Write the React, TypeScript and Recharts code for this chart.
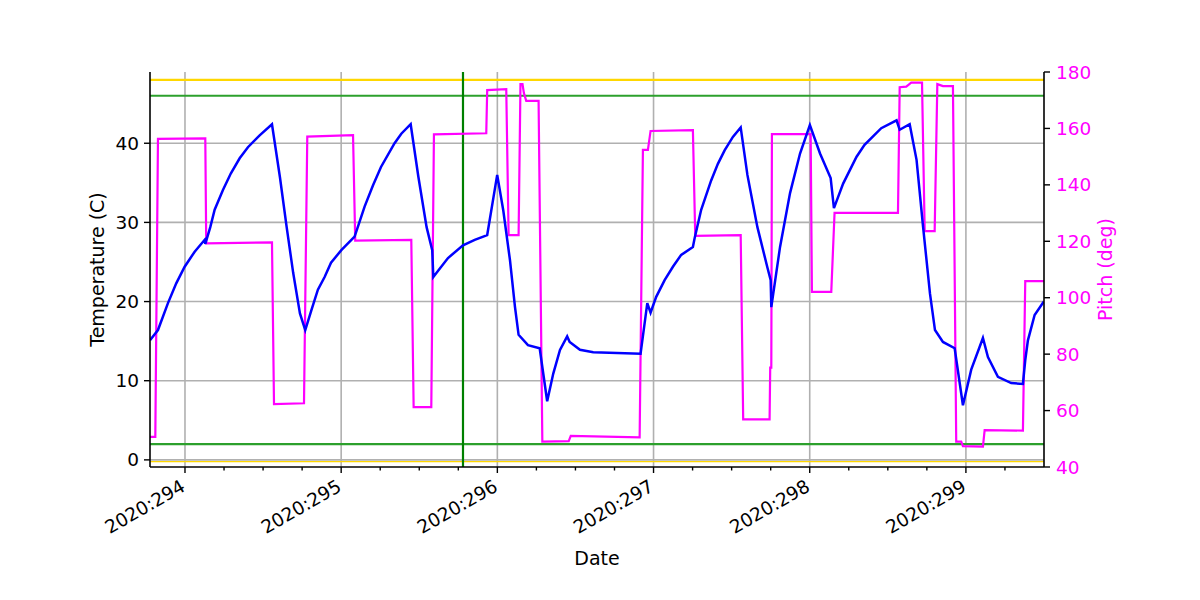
import React from 'react';
import { ComposedChart, Line, XAxis, YAxis, CartesianGrid, ReferenceLine } from 'recharts';

const FONT = '"DejaVu Sans", Verdana, sans-serif';

const chartTitle = 'TMP_FEP1_ACTEL';
const xLabel = 'Date';
const leftLabel = 'Temperature (C)';
const rightLabel = 'Pitch (deg)';
const yearPrefix = '2020:';

const xDomain: [number, number] = [293.776, 299.5];
const majorDays = [294, 295, 296, 297, 298, 299];
const minorDays = [
  294.25, 294.5, 294.75, 295.25, 295.5, 295.75, 296.25, 296.5, 296.75,
  297.25, 297.5, 297.75, 298.25, 298.5, 298.75, 299.25,
];
const leftTicks = [0, 10, 20, 30, 40];
const leftDomain: [number, number] = [-0.9, 49];
const rightTicks = [40, 60, 80, 100, 120, 140, 160, 180];
const rightDomain: [number, number] = [40, 180];

// limit lines (temperature axis)
const yellowLimits = [48, -0.22];
const greenLimits = [46, 2];
const markerDay = 295.78;

// Temperature series
const tempDays = [
  293.776, 293.827, 293.891, 293.944, 293.998, 294.062, 294.126, 294.130, 294.162, 294.190,
  294.243, 294.294, 294.350, 294.403, 294.478, 294.557, 294.608, 294.651, 294.693, 294.736,
  294.770, 294.809, 294.851, 294.894, 294.935, 295.001, 295.086, 295.150, 295.204, 295.255,
  295.342, 295.385, 295.445, 295.494, 295.547, 295.583, 295.590, 295.633, 295.684, 295.780,
  295.855, 295.935, 295.999, 296.038, 296.081, 296.113, 296.136, 296.196, 296.271, 296.319,
  296.358, 296.401, 296.447, 296.463, 296.529, 296.614, 296.917, 296.960, 296.981, 297.017,
  297.071, 297.124, 297.177, 297.252, 297.263, 297.305, 297.369, 297.412, 297.455, 297.508,
  297.558, 297.601, 297.665, 297.729, 297.750, 297.754, 297.810, 297.874, 297.938, 298.001,
  298.066, 298.134, 298.155, 298.214, 298.300, 298.351, 298.407, 298.458, 298.556, 298.576,
  298.640, 298.684, 298.726, 298.770, 298.802, 298.853, 298.928, 298.981, 299.034, 299.109,
  299.141, 299.205, 299.290, 299.365, 299.380, 299.397, 299.440, 299.499,
];
const tempValues = [
  15.1, 16.4, 19.8, 22.3, 24.4, 26.3, 27.8, 27.3, 29.4, 31.6,
  34.1, 36.2, 38.1, 39.5, 41.0, 42.4, 35.7, 29.4, 23.6, 18.5,
  16.4, 18.9, 21.5, 23.1, 24.9, 26.5, 28.2, 32.0, 34.7, 37.0,
  40.0, 41.2, 42.4, 35.8, 29.4, 26.5, 23.1, 24.2, 25.5, 27.1,
  27.8, 28.4, 36.0, 31.5, 25.2, 19.3, 15.8, 14.5, 14.1, 7.4,
  10.9, 13.9, 15.6, 14.9, 13.9, 13.6, 13.4, 19.8, 18.6, 20.6,
  22.7, 24.4, 25.9, 26.9, 28.0, 31.6, 35.3, 37.4, 39.1, 40.8,
  42.0, 36.0, 29.4, 24.3, 22.7, 19.3, 26.9, 33.7, 38.7, 42.3,
  38.7, 35.6, 31.8, 34.9, 38.3, 39.8, 40.9, 41.9, 42.9, 41.7,
  42.4, 37.9, 29.4, 21.0, 16.4, 14.9, 14.1, 6.9, 11.4, 15.4,
  13.0, 10.5, 9.7, 9.6, 12.6, 15.1, 18.3, 20.0,
];

// Pitch series
const pitchDays = [
  293.776, 293.810, 293.827, 294.130, 294.136, 294.557, 294.570, 294.762, 294.783, 295.076,
  295.090, 295.449, 295.464, 295.577, 295.594, 295.929, 295.935, 296.057, 296.072, 296.136,
  296.148, 296.161, 296.170, 296.185, 296.264, 296.288, 296.457, 296.470, 296.911, 296.932,
  296.964, 296.981, 297.252, 297.267, 297.558, 297.574, 297.743, 297.747, 297.754, 297.758,
  298.006, 298.014, 298.138, 298.159, 298.565, 298.576, 298.618, 298.650, 298.719, 298.736,
  298.800, 298.817, 298.853, 298.917, 298.938, 298.970, 298.981, 299.109, 299.120, 299.365,
  299.380, 299.499,
];
const pitchValues = [
  50.7, 50.7, 156.3, 156.5, 119.3, 119.6, 62.3, 62.6, 157.1, 157.6,
  120.2, 120.5, 61.2, 61.2, 157.9, 158.3, 173.6, 173.9, 122.2, 122.2,
  175.7, 175.7, 172.5, 169.8, 169.8, 49.0, 49.2, 51.0, 50.5, 152.4,
  152.4, 159.1, 159.4, 121.9, 122.2, 56.9, 56.9, 75.2, 75.2, 158.0,
  158.0, 102.1, 102.1, 130.1, 130.1, 174.6, 174.8, 176.2, 176.2, 123.6,
  123.6, 175.7, 175.0, 175.0, 49.0, 49.0, 47.4, 47.2, 53.1, 52.9,
  105.9, 105.9,
];

const tempData = tempDays.map((d, i) => ({ d, v: tempValues[i] }));
const pitchData = pitchDays.map((d, i) => ({ d, v: pitchValues[i] }));
const xTicks = [...majorDays, ...minorDays].sort((a, b) => a - b);

const XTick = (props: any) => {
  const { x, y, payload } = props;
  const v = payload.value;
  const isMajor = majorDays.includes(v);
  const ax = x + 1.5;
  const ay = y + 23;
  return (
    <g>
      <line x1={x} y1={y} x2={x} y2={y + (isMajor ? 6 : 3.5)} stroke="#000" strokeWidth={1.4} />
      {isMajor && (
        <text
          x={ax}
          y={ay}
          textAnchor="end"
          transform={`rotate(-30 ${ax} ${ay})`}
          fontSize={18.5}
          fontFamily={FONT}
          fill="#000"
        >
          {yearPrefix + v}
        </text>
      )}
    </g>
  );
};

const DateLabel = () => (
  <text x={597} y={565} textAnchor="middle" fontSize={19} fontFamily={FONT} fill="#000">
    {xLabel}
  </text>
);
const TitleLabel = () => (
  <text x={597} y={64} textAnchor="middle" fontSize={21.5} fontFamily={FONT} fill="#000">
    {chartTitle}
  </text>
);
const LeftLabel = () => (
  <text
    x={97}
    y={269.5}
    transform="rotate(-90 97 269.5)"
    textAnchor="middle"
    dominantBaseline="central"
    fontSize={19}
    fontFamily={FONT}
    fill="#000"
  >
    {leftLabel}
  </text>
);
const RightLabel = () => (
  <text
    x={1105}
    y={269.5}
    transform="rotate(-90 1105 269.5)"
    textAnchor="middle"
    dominantBaseline="central"
    fontSize={19}
    fontFamily={FONT}
    fill="#ff00ff"
  >
    {rightLabel}
  </text>
);

export default function App() {
  return (
    <div style={{ position: 'absolute', left: 0, top: 0, width: 1200, height: 600, background: '#fff' }}>
      <ComposedChart width={1200} height={600} margin={{ top: 72, right: 0, bottom: 0, left: 0 }}>
        <CartesianGrid
          xAxisId="b"
          yAxisId="left"
          horizontalValues={leftTicks}
          verticalValues={majorDays}
          stroke="#b0b0b0"
          strokeWidth={1.6}
        />
        <XAxis
          xAxisId="b"
          dataKey="d"
          type="number"
          domain={xDomain}
          allowDataOverflow
          ticks={xTicks}
          interval={0}
          tick={<XTick />}
          tickSize={0}
          tickMargin={0}
          tickLine={false}
          height={133}
          axisLine={{ stroke: '#000', strokeWidth: 1.6 }}
          label={{ content: DateLabel }}
        />
        <XAxis
          xAxisId="t"
          orientation="top"
          dataKey="d"
          type="number"
          domain={xDomain}
          allowDataOverflow
          height={0}
          tick={false}
          tickLine={false}
          axisLine={{ stroke: '#000', strokeWidth: 1.6 }}
          label={{ content: TitleLabel }}
        />
        <YAxis
          yAxisId="left"
          type="number"
          domain={leftDomain}
          allowDataOverflow
          ticks={leftTicks}
          interval={0}
          width={150}
          tickSize={6}
          tickMargin={5}
          tick={{ fontSize: 18.5, fill: '#000', fontFamily: FONT }}
          tickLine={{ stroke: '#000', strokeWidth: 1.4 }}
          axisLine={{ stroke: '#000', strokeWidth: 1.6 }}
          label={{ content: LeftLabel }}
        />
        <YAxis
          yAxisId="right"
          orientation="right"
          type="number"
          domain={rightDomain}
          allowDataOverflow
          ticks={rightTicks}
          interval={0}
          width={156}
          tickSize={6}
          tickMargin={6}
          tick={{ fontSize: 18.5, fill: '#ff00ff', fontFamily: FONT }}
          tickLine={{ stroke: '#000', strokeWidth: 1.4 }}
          axisLine={{ stroke: '#000', strokeWidth: 1.6 }}
          label={{ content: RightLabel }}
        />
        {yellowLimits.map((v, i) => (
          <ReferenceLine
            key={'y' + i}
            xAxisId="b"
            yAxisId="left"
            y={v}
            stroke="#ffd700"
            strokeWidth={i === 0 ? 2.2 : 1.2}
            ifOverflow="visible"
          />
        ))}
        {greenLimits.map((v, i) => (
          <ReferenceLine key={'g' + i} xAxisId="b" yAxisId="left" y={v} stroke="#2ca02c" strokeWidth={2.2} />
        ))}
        <ReferenceLine xAxisId="b" yAxisId="left" x={markerDay} stroke="#008000" strokeWidth={2.2} />
        <Line
          xAxisId="b"
          yAxisId="right"
          data={pitchData}
          dataKey="v"
          type="linear"
          stroke="#ff00ff"
          strokeWidth={2.2}
          dot={false}
          activeDot={false}
          isAnimationActive={false}
        />
        <Line
          xAxisId="b"
          yAxisId="left"
          data={tempData}
          dataKey="v"
          type="linear"
          stroke="#0000ff"
          strokeWidth={2.5}
          dot={false}
          activeDot={false}
          isAnimationActive={false}
        />
      </ComposedChart>
    </div>
  );
}
